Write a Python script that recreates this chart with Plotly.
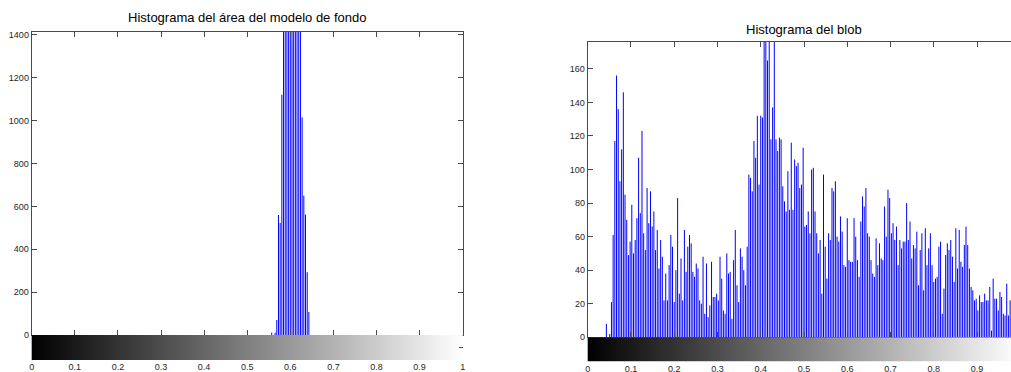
import numpy as np
import plotly.graph_objects as go

W, H = 1011, 372

# ---- data: gray-level histograms (256 levels, level k -> intensity k/255) ----
# background-model region: only levels 142..164 are populated
fondo_niveles = [142, 143, 144, 145, 146, 147, 148, 149, 150, 151, 152, 153,
                 154, 155, 156, 157, 158, 159, 160, 161, 162, 163, 164]
fondo_cuentas = [11, 0, 11, 70, 560, 523, 1121, 1600, 2100, 2700, 3200, 3500,
                 3400, 3000, 2500, 2000, 1700, 1500, 1015, 650, 562, 293, 107]

# blob region: levels 0..249
blob_niveles = list(range(250))
blob_cuentas = [
    0, 0, 0, 0, 0, 0, 0, 0, 0, 0,
    0, 8, 0, 2, 21, 61, 117, 156, 136, 93,
    112, 146, 85, 70, 49, 57, 79, 50, 58, 71,
    107, 74, 123, 62, 52, 89, 68, 87, 66, 75,
    52, 64, 41, 58, 48, 22, 38, 22, 43, 61,
    54, 21, 40, 83, 26, 47, 22, 64, 39, 54,
    61, 56, 39, 36, 44, 41, 22, 20, 48, 14,
    44, 12, 19, 45, 24, 24, 26, 22, 48, 35,
    16, 14, 50, 38, 39, 11, 46, 64, 31, 21,
    53, 48, 40, 31, 54, 97, 95, 87, 117, 107,
    132, 91, 132, 131, 210, 240, 165, 195, 118, 137,
    185, 118, 111, 119, 118, 90, 81, 75, 99, 76,
    116, 76, 106, 102, 104, 89, 91, 113, 66, 67,
    75, 62, 100, 101, 75, 62, 50, 58, 26, 97,
    54, 35, 62, 58, 89, 87, 93, 60, 57, 72,
    63, 43, 42, 71, 46, 45, 45, 71, 60, 46,
    36, 69, 84, 78, 89, 62, 60, 46, 38, 36,
    59, 43, 56, 47, 46, 78, 60, 88, 83, 62,
    68, 58, 66, 43, 58, 53, 57, 57, 80, 58,
    69, 47, 55, 53, 63, 31, 52, 62, 28, 65,
    43, 53, 62, 43, 33, 35, 36, 54, 57, 14,
    29, 49, 56, 52, 58, 48, 33, 65, 41, 64,
    45, 42, 55, 66, 55, 41, 30, 28, 22, 23,
    16, 25, 21, 21, 26, 22, 22, 30, 4, 35,
    23, 23, 16, 27, 24, 14, 13, 32, 13, 22,
]

x_ticks = [0, 0.1, 0.2, 0.3, 0.4, 0.5, 0.6, 0.7, 0.8, 0.9, 1]
x_ticktext = ["0", "0.1", "0.2", "0.3", "0.4", "0.5", "0.6", "0.7", "0.8", "0.9", "1"]
fondo_yticks = [0, 200, 400, 600, 800, 1000, 1200, 1400]
blob_yticks = [0, 20, 40, 60, 80, 100, 120, 140, 160]

titulos = ["Histograma del área del modelo de fondo", "Histograma del blob"]

FONT = "Liberation Sans, Arial, sans-serif"
AXC = "#4a4a4a"
STEM = "#0000ff"


def px_x(p):
    return p / W


def px_y(p):
    return 1 - p / H


def stems(levels, counts):
    xs, ys = [], []
    for k, c in zip(levels, counts):
        xv = k / 255
        xs += [xv, xv, None]
        ys += [0, c, None]
    return xs, ys


fig = go.Figure()

# stem histograms
fx, fy = stems(fondo_niveles, fondo_cuentas)
fig.add_trace(go.Scatter(x=fx, y=fy, mode="lines", line=dict(color=STEM, width=1),
                         xaxis="x", yaxis="y", showlegend=False, hoverinfo="skip"))
bx, by = stems(blob_niveles, blob_cuentas)
fig.add_trace(go.Scatter(x=bx, y=by, mode="lines", line=dict(color=STEM, width=1),
                         xaxis="x3", yaxis="y3", showlegend=False, hoverinfo="skip"))

# gray colour bars under each histogram
gray_levels = np.arange(256)
for xa, ya in (("x2", "y2"), ("x4", "y4")):
    fig.add_trace(go.Heatmap(
        z=[gray_levels], x=gray_levels / 255, y=[0.5],
        colorscale=[[0, "black"], [1, "white"]], showscale=False,
        xaxis=xa, yaxis=ya, hoverinfo="skip"))

# geometry (pixel edges of each axes box)
L_x0, L_x1 = 31.7, 462.7
L_top, L_base, L_bot = 31.7, 335.0, 360.0
R_x0 = 587.7
R_scale = 432.6
R_top, R_base, R_bot = 42.0, 337.3, 361.7
R_xmax = (W - R_x0) / R_scale

tickfont = dict(family=FONT, size=9, color="#262626")

hist_x = dict(range=[0, 1], tickvals=x_ticks, showticklabels=False,
              ticks="inside", ticklen=5, tickcolor=AXC, showline=True,
              linecolor=AXC, linewidth=1, mirror="ticks", showgrid=False,
              zeroline=False, automargin=False)
bar_x = dict(range=[0, 1], tickvals=x_ticks, ticktext=x_ticktext, ticks="",
             tickfont=tickfont, showline=False, showgrid=False, zeroline=False,
             automargin=False)
bar_y = dict(range=[0, 1], tickvals=[0.5], showticklabels=False, ticks="inside",
             ticklen=4, tickcolor=AXC, showline=False, showgrid=False,
             zeroline=False, fixedrange=True, automargin=False)
hist_y = dict(tickfont=tickfont, ticks="inside", ticklen=5, tickcolor=AXC,
              showline=True, linecolor=AXC, linewidth=1, showgrid=False,
              zeroline=False, automargin=False)

fig.update_layout(
    template="none",
    width=W, height=H, margin=dict(l=0, r=0, t=0, b=0, autoexpand=False),
    paper_bgcolor="white", plot_bgcolor="white", showlegend=False,
    xaxis=dict(hist_x, domain=[px_x(L_x0), px_x(L_x1)], anchor="y"),
    yaxis=dict(hist_y, range=[0, 1415], tickvals=fondo_yticks, mirror="ticks",
               domain=[px_y(L_base), px_y(L_top)], anchor="x"),
    xaxis2=dict(bar_x, domain=[px_x(L_x0), px_x(L_x1)], anchor="y2"),
    yaxis2=dict(bar_y, domain=[px_y(L_bot), px_y(L_base)], anchor="x2",
                side="right"),
    xaxis3=dict(hist_x, range=[0, R_xmax], domain=[px_x(R_x0), 1], anchor="y3"),
    yaxis3=dict(hist_y, range=[0, 176], tickvals=blob_yticks, mirror=False,
                domain=[px_y(R_base), px_y(R_top)], anchor="x3"),
    xaxis4=dict(bar_x, range=[0, R_xmax], domain=[px_x(R_x0), 1], anchor="y4"),
    yaxis4=dict(bar_y, domain=[px_y(R_bot), px_y(R_base)], anchor="x4",
                ticks=""),
)

# axes titles
fig.add_annotation(text=titulos[0], x=px_x((L_x0 + L_x1) / 2), y=px_y(17.5),
                   xref="paper", yref="paper", showarrow=False,
                   xanchor="center", yanchor="middle",
                   font=dict(family=FONT, size=13, color="black"))
fig.add_annotation(text=titulos[1], x=px_x(R_x0 + R_scale / 2), y=px_y(29),
                   xref="paper", yref="paper", showarrow=False,
                   xanchor="center", yanchor="middle",
                   font=dict(family=FONT, size=13, color="black"))

fig.write_html("out.html")
